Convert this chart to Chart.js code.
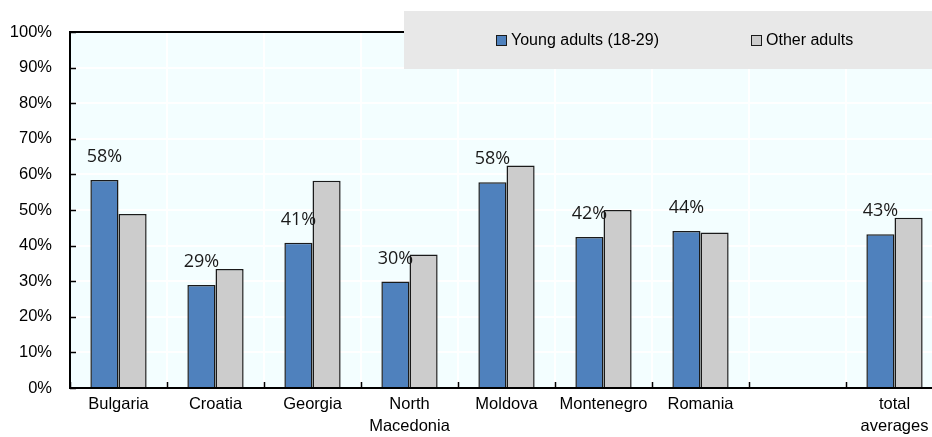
<!DOCTYPE html>
<html>
<head>
<meta charset="utf-8">
<script src="https://cdn.jsdelivr.net/npm/chart.js@4/dist/chart.umd.min.js"></script>
<style>
  html, body { margin: 0; padding: 0; background: #ffffff; overflow: hidden; }
  #wrap { width: 960px; height: 437px; position: relative; }
</style>
</head>
<body>
<div id="wrap"><canvas id="c" width="960" height="437"></canvas></div>
<script>
const categories = ["Bulgaria", "Croatia", "Georgia", ["North", "Macedonia"], "Moldova", "Montenegro", "Romania", "", ["total", "averages"]];
const youngAdults = [58.4, 28.9, 40.8, 29.9, 57.8, 42.4, 44.1, null, 43.2];
const otherAdults = [48.9, 33.4, 58.2, 37.5, 62.5, 50.0, 43.7, null, 47.8];
const seriesNames = ["Young adults (18-29)", "Other adults"];
const yTicks = [0, 10, 20, 30, 40, 50, 60, 70, 80, 90, 100];

const BLUE = "#4F81BD";
const GREY = "#CCCCCC";
const AXIS_FONT = "Liberation Sans, Arial, sans-serif";

const plotBg = {
  id: "plotBg",
  beforeDraw(chart) {
    const a = chart.chartArea, ctx = chart.ctx;
    ctx.save();
    ctx.fillStyle = "#F3FEFF";
    ctx.fillRect(a.left, a.top, a.right - a.left, a.bottom - a.top);
    ctx.restore();
  }
};

const extras = {
  id: "extras",
  afterDatasetsDraw(chart) {
    const ctx = chart.ctx, a = chart.chartArea;
    const y = chart.scales.y;
    ctx.save();
    // value labels above blue bars
    const meta = chart.getDatasetMeta(0);
    ctx.font = "18px 'Open Sans', sans-serif";
    ctx.fillStyle = "#1a1a1a";
    ctx.textAlign = "center";
    ctx.textBaseline = "middle";
    meta.data.forEach((bar, i) => {
      const v = youngAdults[i];
      if (v == null) return;
      ctx.fillText(Math.round(v) + "%", bar.x, bar.y - 23);
    });
    // frame
    ctx.strokeStyle = "#000";
    ctx.lineWidth = 2;
    ctx.strokeRect(a.left, a.top, a.right - a.left, a.bottom - a.top);
    // inward ticks
    ctx.lineWidth = 1.5;
    yTicks.forEach(t => {
      const py = Math.round(y.getPixelForValue(t)) + 0.5;
      ctx.beginPath(); ctx.moveTo(a.left, py); ctx.lineTo(a.left + 6, py); ctx.stroke();
    });
    for (let i = 0; i <= categories.length; i++) {
      const px = Math.round(a.left + (a.right - a.left) * i / categories.length) + 0.5;
      ctx.beginPath(); ctx.moveTo(px, a.bottom); ctx.lineTo(px, a.bottom - 6); ctx.stroke();
    }
    // legend box
    ctx.fillStyle = "#E8E8E8";
    ctx.fillRect(404, 11, 600, 58);
    const items = [
      { x: 496, color: BLUE, label: seriesNames[0] },
      { x: 751, color: GREY, label: seriesNames[1] }
    ];
    ctx.font = "16px " + AXIS_FONT;
    ctx.textAlign = "left";
    ctx.textBaseline = "middle";
    items.forEach(it => {
      ctx.fillStyle = it.color;
      ctx.fillRect(it.x, 35, 11, 11);
      ctx.strokeStyle = "#1a1a1a";
      ctx.lineWidth = 1;
      ctx.strokeRect(it.x + 0.5, 35.5, 10, 10);
      ctx.fillStyle = "#000";
      ctx.fillText(it.label, it.x + 15, 41);
    });
    ctx.restore();
  }
};

new Chart(document.getElementById("c"), {
  type: "bar",
  data: {
    labels: categories,
    datasets: [
      { label: seriesNames[0], data: youngAdults, backgroundColor: BLUE, borderColor: "#1a1a1a", borderWidth: 1.5 },
      { label: seriesNames[1], data: otherAdults, backgroundColor: GREY, borderColor: "#1a1a1a", borderWidth: 1.5 }
    ]
  },
  options: {
    responsive: false,
    animation: false,
    events: [],
    layout: { padding: { top: 32, right: 17, left: 0, bottom: 0 } },
    datasets: { bar: { categoryPercentage: 0.58, barPercentage: 1.0 } },
    plugins: { legend: { display: false }, tooltip: { enabled: false }, title: { display: false } },
    scales: {
      x: {
        offset: true,
        grid: { color: "#FFFFFF", lineWidth: 2, offset: true, drawTicks: false },
        border: { display: false },
        ticks: { color: "#000", font: { family: AXIS_FONT, size: 16.5, lineHeight: 1.35 }, padding: 5, maxRotation: 0, autoSkip: false },
        afterFit(s) { s.height = 49; }
      },
      y: {
        min: 0, max: 100,
        afterBuildTicks(s) { s.ticks = yTicks.map(v => ({ value: v })); },
        grid: { color: "#FFFFFF", lineWidth: 2, drawTicks: false },
        border: { display: false },
        ticks: { color: "#000", font: { family: AXIS_FONT, size: 16.5 }, padding: 18, callback: v => v + "%" },
        afterFit(s) { s.width = 70; }
      }
    }
  },
  plugins: [plotBg, extras]
});
</script>
</body>
</html>
